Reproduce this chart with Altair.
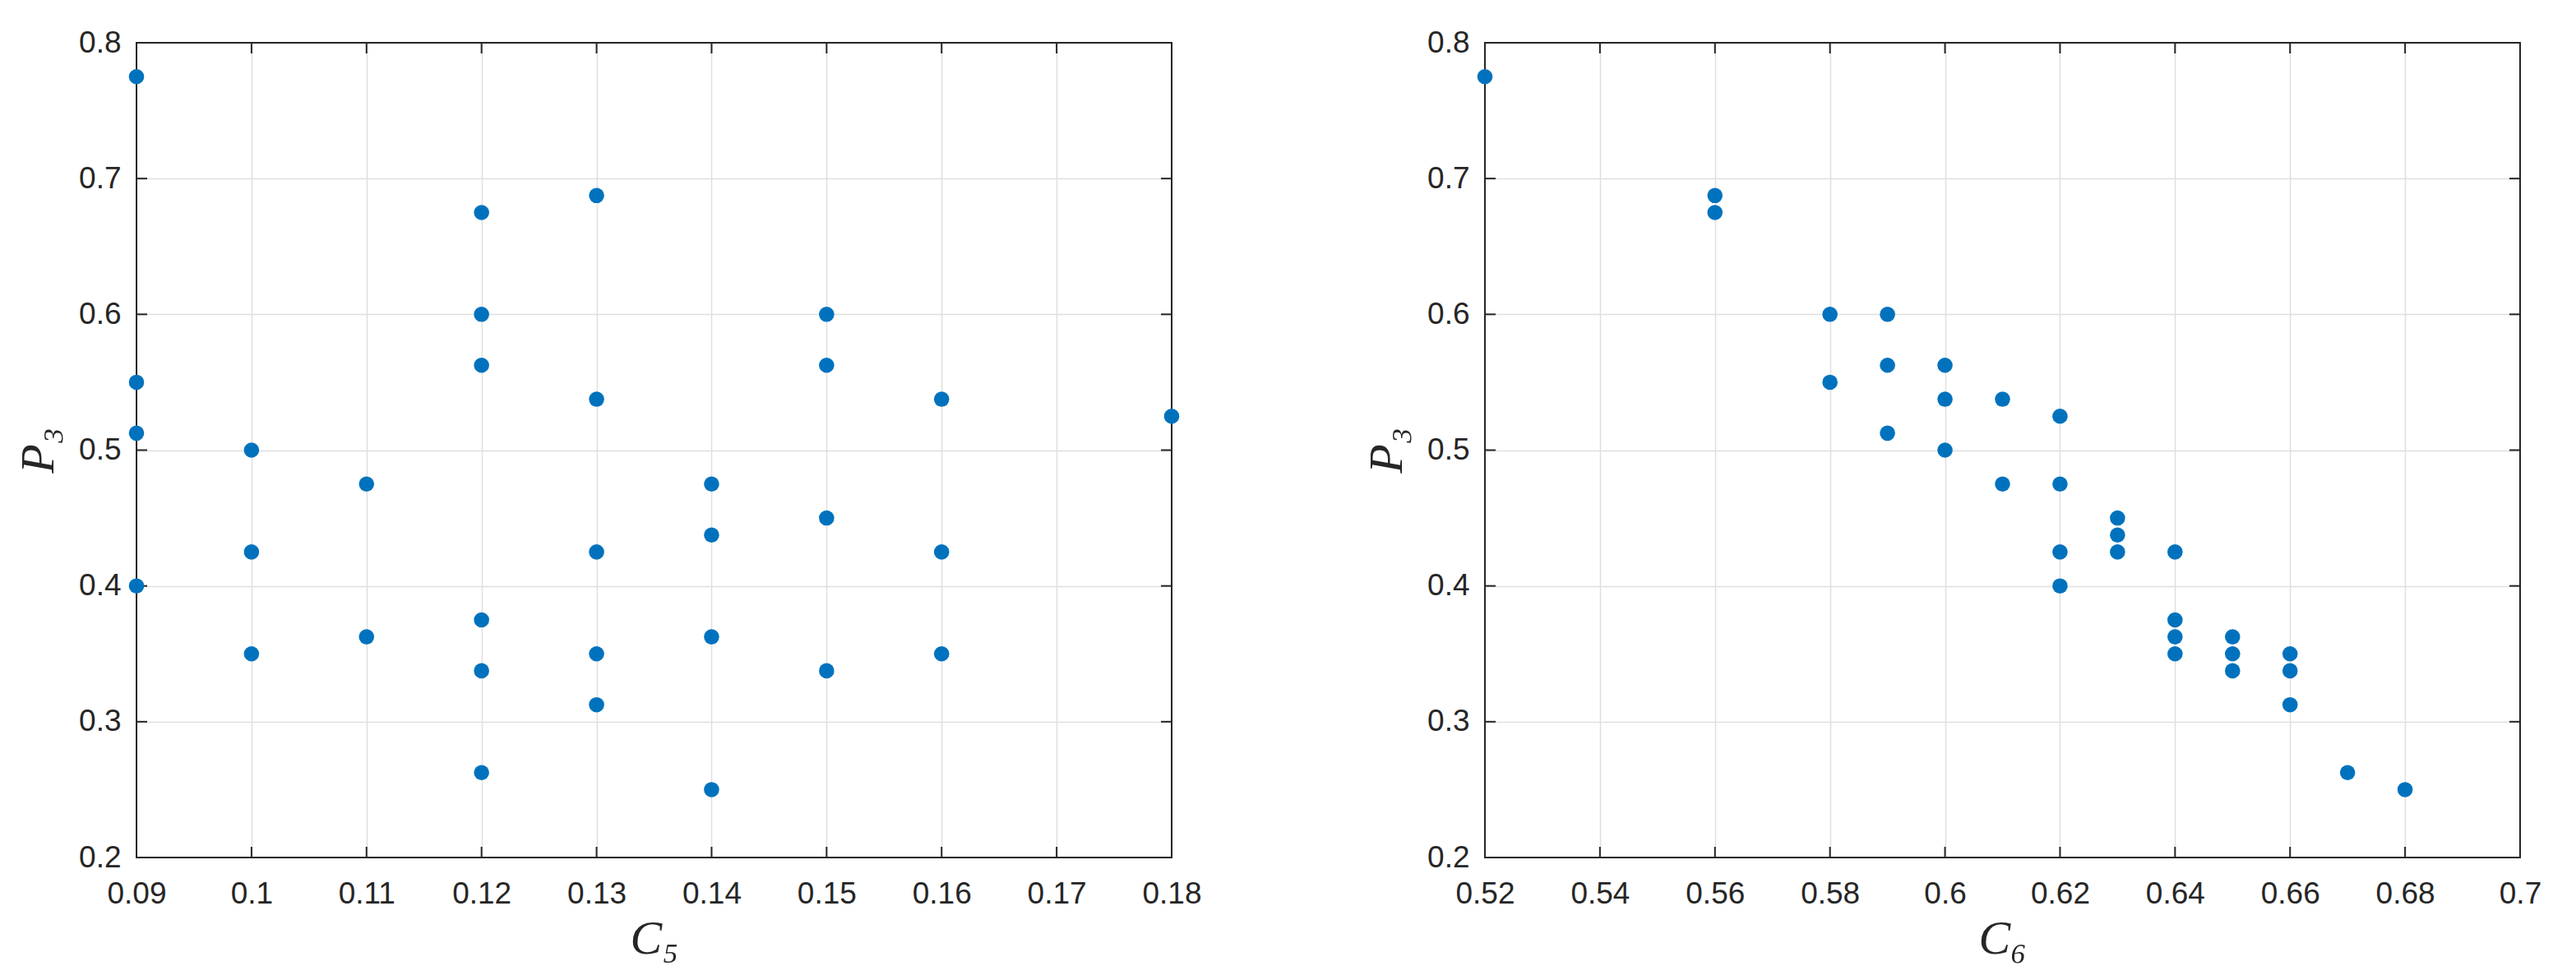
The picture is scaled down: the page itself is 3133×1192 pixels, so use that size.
import altair as alt
import pandas as pd

# ---- data ----
c5 = [0.09, 0.09, 0.09, 0.09,
      0.10, 0.10, 0.10,
      0.11, 0.11,
      0.12, 0.12, 0.12, 0.12, 0.12, 0.12,
      0.13, 0.13, 0.13, 0.13, 0.13,
      0.14, 0.14, 0.14, 0.14,
      0.15, 0.15, 0.15, 0.15,
      0.16, 0.16, 0.16,
      0.18]
p3_left = [0.775, 0.55, 0.5125, 0.4,
           0.5, 0.425, 0.35,
           0.475, 0.3625,
           0.675, 0.6, 0.5625, 0.375, 0.3375, 0.2625,
           0.6875, 0.5375, 0.425, 0.35, 0.3125,
           0.475, 0.4375, 0.3625, 0.25,
           0.6, 0.5625, 0.45, 0.3375,
           0.5375, 0.425, 0.35,
           0.525]

c6 = [0.52,
      0.56, 0.56,
      0.58, 0.58,
      0.59, 0.59, 0.59,
      0.60, 0.60, 0.60,
      0.61, 0.61,
      0.62, 0.62, 0.62, 0.62,
      0.63, 0.63, 0.63,
      0.64, 0.64, 0.64, 0.64,
      0.65, 0.65, 0.65,
      0.66, 0.66, 0.66,
      0.67,
      0.68]
p3_right = [0.775,
            0.6875, 0.675,
            0.6, 0.55,
            0.6, 0.5625, 0.5125,
            0.5625, 0.5375, 0.5,
            0.5375, 0.475,
            0.525, 0.475, 0.425, 0.4,
            0.45, 0.4375, 0.425,
            0.425, 0.375, 0.3625, 0.35,
            0.3625, 0.35, 0.3375,
            0.35, 0.3375, 0.3125,
            0.2625,
            0.25]

x_ticks_left = [0.09, 0.10, 0.11, 0.12, 0.13, 0.14, 0.15, 0.16, 0.17, 0.18]
x_ticks_right = [0.52, 0.54, 0.56, 0.58, 0.60, 0.62, 0.64, 0.66, 0.68, 0.70]
y_ticks = [0.2, 0.3, 0.4, 0.5, 0.6, 0.7, 0.8]
x_domain_left = [0.09, 0.18]
x_domain_right = [0.52, 0.70]
y_domain = [0.2, 0.8]

# ---- styling ----
W, H = 1259, 991
TICK = 13
BLUE = "#0072BD"
FRAME = "#262626"
GRID = "#dfdfdf"
LABEL_FONT = "Liberation Sans"
TITLE_FONT = "Liberation Serif"


def panel(xvals, yvals, xticks, xdomain, xtitle):
    df = pd.DataFrame({"x": xvals, "y": yvals})
    xs = alt.Scale(domain=xdomain, nice=False, zero=False)
    ys = alt.Scale(domain=y_domain, nice=False, zero=False)

    xaxis = alt.Axis(values=xticks, format="~g", title=xtitle, grid=True,
                     ticks=False, tickSize=0, domain=False, labelPadding=26,
                     titlePadding=8, labelFlush=False)
    yaxis = alt.Axis(values=y_ticks, format="~g", title="P₃", grid=True,
                     ticks=False, tickSize=0, domain=False, labelPadding=19,
                     titlePadding=19)

    X = lambda f: alt.X(f, type="quantitative", scale=xs, axis=xaxis)
    Y = lambda f: alt.Y(f, type="quantitative", scale=ys, axis=yaxis)

    frame = alt.Chart(pd.DataFrame({"k": [0]})).mark_rect(
        filled=False, stroke=FRAME, strokeWidth=2
    ).encode(x=alt.value(0), x2=alt.value(W), y=alt.value(0), y2=alt.value(H))

    xt = pd.DataFrame({"x": xticks})
    yt = pd.DataFrame({"y": y_ticks})
    rule = dict(color=FRAME, strokeWidth=2)
    tb = alt.Chart(xt).mark_rule(**rule).encode(
        x=X("x"), y=alt.value(H), y2=alt.value(H - TICK))
    tt = alt.Chart(xt).mark_rule(**rule).encode(
        x=X("x"), y=alt.value(0), y2=alt.value(TICK))
    tl = alt.Chart(yt).mark_rule(**rule).encode(
        y=Y("y"), x=alt.value(0), x2=alt.value(TICK))
    tr = alt.Chart(yt).mark_rule(**rule).encode(
        y=Y("y"), x=alt.value(W), x2=alt.value(W - TICK))

    pts = alt.Chart(df).mark_circle(size=345, color=BLUE, opacity=1).encode(
        x=X("x"), y=Y("y"))
    return alt.layer(frame, tb, tt, tl, tr, pts).properties(width=W, height=H)


left = panel(c5, p3_left, x_ticks_left, x_domain_left, "C₅")
right = panel(c6, p3_right, x_ticks_right, x_domain_right, "C₆")

chart = alt.hconcat(left, right, spacing=196).properties(
    padding={"left": 10, "top": 25, "right": 5, "bottom": 5},
    background="white",
).configure_view(strokeWidth=0).configure_axis(
    labelFont=LABEL_FONT, labelFontSize=37, labelColor=FRAME,
    titleFont=TITLE_FONT, titleFontSize=58, titleFontStyle="italic",
    titleFontWeight="normal", titleColor=FRAME,
    gridColor=GRID, gridWidth=1.5, gridOpacity=1,
)

chart.save("out.html", embed_options={"renderer": "svg", "actions": False})
